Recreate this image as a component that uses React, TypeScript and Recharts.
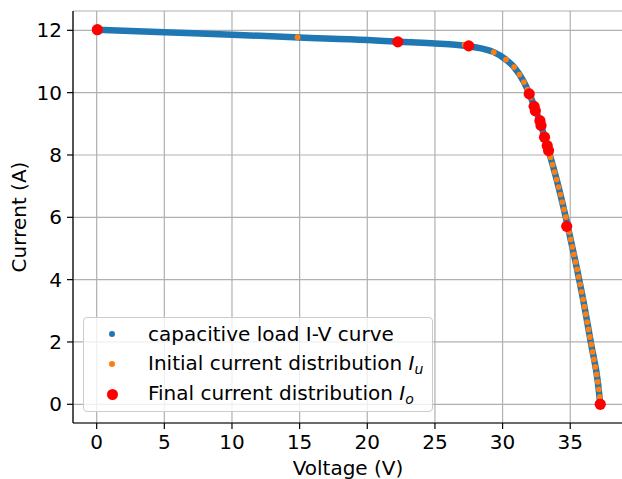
import React from 'react';
import {
  ComposedChart,
  Line,
  Scatter,
  XAxis,
  YAxis,
  CartesianGrid,
  Legend,
  Label,
} from 'recharts';

// Tick labels
const voltageTicks = [0, 5, 10, 15, 20, 25, 30, 35];
const currentTicks = [0, 2, 4, 6, 8, 10, 12];

// capacitive load I-V curve
const curveVoltage = [0, 5, 10, 15, 20, 22.5, 25, 26.5, 27.5, 28.5, 29.35, 30.25, 30.85, 31.58, 32.08, 32.5, 33.05, 33.54, 34.14, 34.79, 35.39, 35.95, 36.55, 37.04, 37.22];
const curveCurrent = [12.02, 11.94, 11.86, 11.77, 11.69, 11.63, 11.58, 11.54, 11.49, 11.41, 11.3, 11.06, 10.82, 10.34, 9.86, 9.38, 8.66, 7.93, 6.97, 5.77, 4.57, 3.37, 1.92, 0.72, 0];

// Initial current distribution I_u
const initialCurrent = [12.02, 11.78, 11.54, 11.3, 11.06, 10.82, 10.58, 10.34, 10.1, 9.86, 9.62, 9.38, 9.14, 8.9, 8.66, 8.42, 8.18, 7.93, 7.69, 7.45, 7.21, 6.97, 6.73, 6.49, 6.25, 6.01, 5.77, 5.53, 5.29, 5.05, 4.81, 4.57, 4.33, 4.09, 3.85, 3.61, 3.37, 3.13, 2.89, 2.64, 2.4, 2.16, 1.92, 1.68, 1.44, 1.2, 0.96, 0.72, 0.48, 0.24, 0];
const initialVoltage = [0.05, 14.85, 27.2, 29.35, 30.25, 30.85, 31.25, 31.58, 31.85, 32.08, 32.3, 32.5, 32.7, 32.88, 33.05, 33.22, 33.38, 33.54, 33.69, 33.84, 33.99, 34.14, 34.28, 34.41, 34.54, 34.67, 34.79, 34.91, 35.03, 35.15, 35.27, 35.39, 35.51, 35.62, 35.73, 35.84, 35.95, 36.05, 36.15, 36.25, 36.35, 36.45, 36.55, 36.65, 36.75, 36.85, 36.95, 37.04, 37.12, 37.18, 37.22];

// Final current distribution I_o
const finalVoltage = [0.05, 22.26, 27.5, 31.97, 32.33, 32.42, 32.76, 32.84, 33.1, 33.3, 33.4, 34.74, 37.22];
const finalCurrent = [12.02, 11.63, 11.5, 9.96, 9.56, 9.42, 9.1, 8.95, 8.57, 8.3, 8.14, 5.71, 0];

const curveData = curveVoltage.map((v, k) => ({ v, i: curveCurrent[k] }));
const initialData = initialVoltage.map((v, k) => ({ v, i: initialCurrent[k] }));
const finalData = finalVoltage.map((v, k) => ({ v, i: finalCurrent[k] }));

const FONT = '"DejaVu Sans", Verdana, sans-serif';
const FS = 20;
const BLUE = '#1f77b4';
const ORANGE = '#ff7f0e';
const RED = '#ff0000';

const xDomain: [number, number] = [-1.75, 38.9];
const yDomain: [number, number] = [-0.6, 12.62];

const XLabel = (props: any) => {
  const vb = props.viewBox || {};
  return (
    <text
      x={vb.x + vb.width / 2}
      y={vb.y + 52}
      textAnchor="middle"
      fontFamily={FONT}
      fontSize={FS}
      fill="#000"
    >
      Voltage (V)
    </text>
  );
};

const YLabel = (props: any) => {
  const vb = props.viewBox || {};
  const cx = vb.x + 26;
  const cy = vb.y + vb.height / 2;
  return (
    <text
      x={cx}
      y={cy}
      transform={`rotate(-90, ${cx}, ${cy})`}
      textAnchor="middle"
      fontFamily={FONT}
      fontSize={FS}
      fill="#000"
    >
      Current (A)
    </text>
  );
};

const LegendBox = () => {
  const row = (top: number, marker: React.ReactNode, text: React.ReactNode) => (
    <div
      style={{
        position: 'absolute',
        left: 0,
        top,
        height: 30,
        width: '100%',
        display: 'flex',
        alignItems: 'center',
      }}
    >
      <div style={{ width: 56, flex: '0 0 56px', display: 'flex', justifyContent: 'center' }}>
        {marker}
      </div>
      <div
        style={{
          marginLeft: 8,
          whiteSpace: 'nowrap',
          fontSize: FS,
          fontFamily: FONT,
          color: '#000',
          lineHeight: '30px',
        }}
      >
        {text}
      </div>
    </div>
  );
  const dot = (size: number, color: string) => (
    <div style={{ width: size, height: size, borderRadius: '50%', background: color }} />
  );
  const mathI = (sub: string) => (
    <span>
      <span style={{ fontStyle: 'italic' }}>I</span>
      <span style={{ fontStyle: 'italic', fontSize: '0.7em', position: 'relative', top: '0.3em' }}>{sub}</span>
    </span>
  );
  return (
    <div
      style={{
        position: 'relative',
        width: 350,
        height: 95,
        boxSizing: 'border-box',
        border: '1px solid #cccccc',
        borderRadius: 4,
        background: 'rgba(255,255,255,0.8)',
      }}
    >
      {row(1, dot(6, BLUE), 'capacitive load I-V curve')}
      {row(31, dot(6, ORANGE), <span>Initial current distribution {mathI('u')}</span>)}
      {row(61, dot(11, RED), <span>Final current distribution {mathI('o')}</span>)}
    </div>
  );
};

export default function App() {
  return (
    <div
      style={{
        position: 'absolute',
        left: 0,
        top: 0,
        width: 622,
        height: 479,
        overflow: 'hidden',
        background: '#fff',
        fontFamily: FONT,
      }}
    >
      <ComposedChart
        width={624}
        height={479}
        margin={{ top: 11, right: 1, left: 0, bottom: 0 }}
      >
        <CartesianGrid stroke="#b0b0b0" strokeWidth={1.2} />
        <XAxis
          dataKey="v"
          type="number"
          domain={xDomain}
          allowDataOverflow
          ticks={voltageTicks}
          height={56}
          tickSize={6}
          tickMargin={6}
          axisLine={{ stroke: '#000', strokeWidth: 1.2 }}
          tickLine={{ stroke: '#000', strokeWidth: 1.2 }}
          tick={{ fill: '#000', fontSize: FS, fontFamily: FONT }}
        >
          <Label content={XLabel} />
        </XAxis>
        <XAxis
          xAxisId="top"
          orientation="top"
          type="number"
          domain={xDomain}
          allowDataOverflow
          height={0}
          tick={false}
          tickLine={false}
          axisLine={{ stroke: '#000', strokeWidth: 1.2 }}
        />
        <YAxis
          dataKey="i"
          type="number"
          domain={yDomain}
          allowDataOverflow
          ticks={currentTicks}
          width={73}
          tickSize={6}
          tickMargin={5}
          axisLine={{ stroke: '#000', strokeWidth: 1.2 }}
          tickLine={{ stroke: '#000', strokeWidth: 1.2 }}
          tick={{ fill: '#000', fontSize: FS, fontFamily: FONT }}
        >
          <Label content={YLabel} />
        </YAxis>
        <Line
          data={curveData}
          dataKey="i"
          type="monotoneX"
          stroke={BLUE}
          strokeWidth={6.5}
          strokeLinecap="round"
          dot={false}
          activeDot={false}
          isAnimationActive={false}
        />
        <Scatter
          data={initialData}
          dataKey="i"
          fill={ORANGE}
          isAnimationActive={false}
          shape={(p: any) => <circle cx={p.cx} cy={p.cy} r={2.9} fill={ORANGE} />}
        />
        <Scatter
          data={finalData}
          dataKey="i"
          fill={RED}
          isAnimationActive={false}
          shape={(p: any) => <circle cx={p.cx} cy={p.cy} r={5.6} fill={RED} />}
        />
        <Legend
          layout="horizontal"
          verticalAlign="middle"
          align="center"
          content={() => <LegendBox />}
          wrapperStyle={{ left: 83, top: 317, width: 350, height: 95 }}
        />
      </ComposedChart>
    </div>
  );
}
